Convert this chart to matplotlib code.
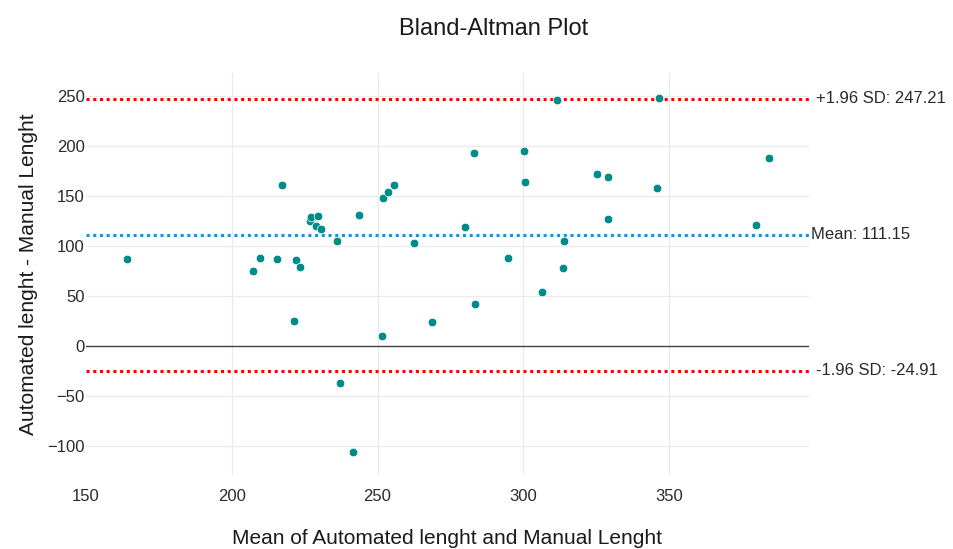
import numpy as np
import matplotlib.pyplot as plt

plt.rcParams['font.family'] = ['Liberation Sans', 'DejaVu Sans']

# Moyennes (axe x) et différences (axe y)
mean_vals = [164.2, 207.3, 209.6, 215.4, 217.4, 221.9, 223.4, 226.8, 227.2,
             229.7, 228.9, 230.5, 236.2, 243.5, 251.8, 253.5, 255.6, 262.5,
             280.0, 283.0, 294.7, 300.3, 300.7, 306.5, 311.7, 314.0, 313.5,
             325.4, 329.0, 329.0, 345.8, 346.6, 384.4, 379.8, 221.5, 251.5,
             268.6, 237.2, 241.5, 283.5]
diff_vals = [86.7, 75.0, 87.7, 87.3, 161.0, 86.3, 79.0, 125.0, 129.0,
             130.0, 120.3, 117.0, 105.0, 131.3, 148.3, 153.7, 161.3, 103.3,
             119.0, 192.7, 88.0, 195.3, 163.7, 54.0, 245.7, 104.7, 77.7,
             171.7, 169.0, 126.7, 158.3, 248.3, 187.7, 120.7, 25.3, 10.0,
             23.7, -37.3, -106.3, 42.0]

mean_diff = 111.15
upper_loa = 247.21
lower_loa = -24.91

x_ticks = [150, 200, 250, 300, 350]
y_ticks = [-100, -50, 0, 50, 100, 150, 200, 250]

fig = plt.figure(figsize=(9.54, 5.49), dpi=100)
ax = fig.add_axes([0.0901, 0.1348, 0.7579, 0.7322])

ax.set_xlim(150, 398)
ax.set_ylim(-129, 273)

# grille et axes
ax.set_xticks(x_ticks)
ax.set_yticks(y_ticks)
ax.grid(True, color='#ebebeb', linewidth=1)
ax.set_axisbelow(True)
# pas de ligne de grille sur le bord gauche (150)
ax.get_xgridlines()[0].set_visible(False)
for s in ax.spines.values():
    s.set_visible(False)
ax.tick_params(length=0, labelsize=12, colors='#2a2a2a')
ax.tick_params(axis='x', pad=10)
ax.tick_params(axis='y', pad=1)

ax.axhline(0, color='#444444', linewidth=1, zorder=1)

# lignes moyenne et limites d'accord
ax.axhline(upper_loa, color='red', linestyle=(0, (1, 1.2)), linewidth=2.2, zorder=2)
ax.axhline(mean_diff, color='#1f8fd6', linestyle=(0, (1, 1.2)), linewidth=2.2, zorder=2)
ax.axhline(lower_loa, color='red', linestyle=(0, (1, 1.2)), linewidth=2.2, zorder=2)

ax.scatter(mean_vals, diff_vals, s=38, color='#008b8b', edgecolors='white',
           linewidths=0.5, zorder=3)

tr = ax.get_yaxis_transform()
ax.text(1.01, upper_loa, f"+1.96 SD: {upper_loa:.2f}", transform=tr,
        ha='left', va='center', fontsize=12, color='#2a2a2a')
ax.text(1.003, mean_diff, f"Mean: {mean_diff:.2f}", transform=tr,
        ha='left', va='center', fontsize=12, color='#2a2a2a')
ax.text(1.01, lower_loa, f"-1.96 SD: {lower_loa:.2f}", transform=tr,
        ha='left', va='center', fontsize=12, color='#2a2a2a')

fig.text(0.517, 0.948, "Bland-Altman Plot", ha='center', va='center',
         fontsize=17, color='#1a1a1a')
fig.text(0.469, 0.02, "Mean of Automated lenght and Manual Lenght",
         ha='center', va='center', fontsize=15, color='#1a1a1a')
fig.text(0.03, 0.5, "Automated lenght - Manual Lenght", rotation=90,
         ha='center', va='center', fontsize=15, color='#1a1a1a')

fig.savefig("out.png", dpi=100)
